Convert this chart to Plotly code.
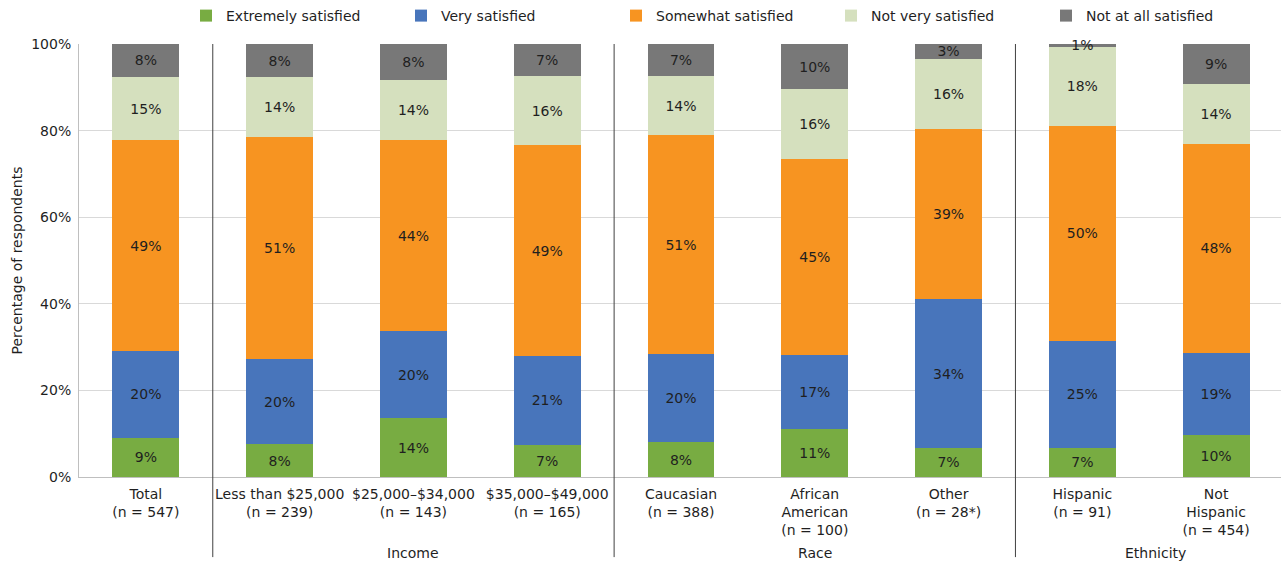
import plotly.graph_objects as go

# Respondent groups (x positions 0..8) and their axis labels
categories = [
    "Total<br>(n = 547)",
    "Less than $25,000<br>(n = 239)",
    "$25,000–$34,000<br>(n = 143)",
    "$35,000–$49,000<br>(n = 165)",
    "Caucasian<br>(n = 388)",
    "African<br>American<br>(n = 100)",
    "Other<br>(n = 28*)",
    "Hispanic<br>(n = 91)",
    "Not<br>Hispanic<br>(n = 454)",
]

# Share of respondents (%) per satisfaction level
extremely_satisfied = [9.1, 7.6, 13.6, 7.4, 8.0, 11.1, 6.7, 6.8, 9.6]
very_satisfied = [20.0, 19.6, 20.1, 20.6, 20.4, 17.1, 34.4, 24.7, 19.1]
somewhat_satisfied = [48.7, 51.3, 44.1, 48.6, 50.6, 45.3, 39.3, 49.6, 48.2]
not_very_satisfied = [14.6, 13.8, 13.8, 16.1, 13.6, 16.1, 16.2, 18.3, 13.9]
not_at_all_satisfied = [7.6, 7.7, 8.4, 7.3, 7.4, 10.4, 3.4, 0.6, 9.2]

# Y axis ticks
y_ticks = [0, 20, 40, 60, 80, 100]
y_tick_labels = ["0%", "20%", "40%", "60%", "80%", "100%"]

# Grouping of the categories shown under the axis
group_names = ["Income", "Race", "Ethnicity"]
group_centers = [2, 5, 7.55]
group_dividers = [0.5, 3.5, 6.5]

series = [
    ("Extremely satisfied", extremely_satisfied, "#78AC42"),
    ("Very satisfied", very_satisfied, "#4875BB"),
    ("Somewhat satisfied", somewhat_satisfied, "#F79421"),
    ("Not very satisfied", not_very_satisfied, "#D5E0BE"),
    ("Not at all satisfied", not_at_all_satisfied, "#787878"),
]

FONT = "DejaVu Sans"
TXT = "#1f1f1f"

x = list(range(len(categories)))

fig = go.Figure()
for name, vals, color in series:
    fig.add_trace(go.Bar(
        x=x,
        y=vals,
        name=name,
        marker=dict(color=color, line=dict(width=0)),
        text=[f"{v:.0f}%" for v in vals],
        textposition="inside",
        insidetextanchor="middle",
        constraintext="none",
        cliponaxis=False,
        insidetextfont=dict(family=FONT, size=14, color=TXT),
        hoverinfo="skip",
    ))

shapes = [
    dict(type="line", xref="x", yref="paper", x0=d, x1=d, y0=-0.185, y1=1,
         line=dict(color="#404040", width=1))
    for d in group_dividers
]

annotations = [
    dict(text=g, x=c, xref="x", y=-0.1755, yref="paper", showarrow=False,
         xanchor="center", yanchor="middle",
         font=dict(family=FONT, size=14, color=TXT))
    for g, c in zip(group_names, group_centers)
]

fig.update_layout(
    width=1281,
    height=563,
    barmode="stack",
    bargap=0.5,
    plot_bgcolor="white",
    paper_bgcolor="white",
    margin=dict(l=79, r=0, t=44, b=86, autoexpand=False),
    font=dict(family=FONT, size=14, color=TXT),
    shapes=shapes,
    annotations=annotations,
    legend=dict(
        orientation="h",
        traceorder="normal",
        xref="container", yref="container",
        x=0.1452, y=1.0, xanchor="left", yanchor="top",
        entrywidth=170, entrywidthmode="pixels",
        font=dict(family=FONT, size=14, color=TXT),
        bgcolor="rgba(0,0,0,0)",
    ),
    xaxis=dict(
        range=[-0.5, 8.485],
        tickmode="array",
        tickvals=x,
        ticktext=categories,
        tickangle=0,
        showgrid=False,
        zeroline=False,
        showline=True,
        linecolor="#bfbfbf",
        ticks="",
        ticklabelstandoff=4,
        tickfont=dict(family=FONT, size=14, color=TXT),
    ),
    yaxis=dict(
        range=[0, 100.01],
        tickmode="array",
        tickvals=y_ticks,
        ticktext=y_tick_labels,
        showgrid=True,
        gridcolor="#d9d9d9",
        gridwidth=1,
        zeroline=False,
        showline=True,
        linecolor="#bfbfbf",
        ticks="",
        ticklabelstandoff=4,
        tickfont=dict(family=FONT, size=14, color=TXT),
        title=dict(text="Percentage of respondents", standoff=5,
                   font=dict(family=FONT, size=14, color=TXT)),
    ),
)

fig.write_html("out.html")
